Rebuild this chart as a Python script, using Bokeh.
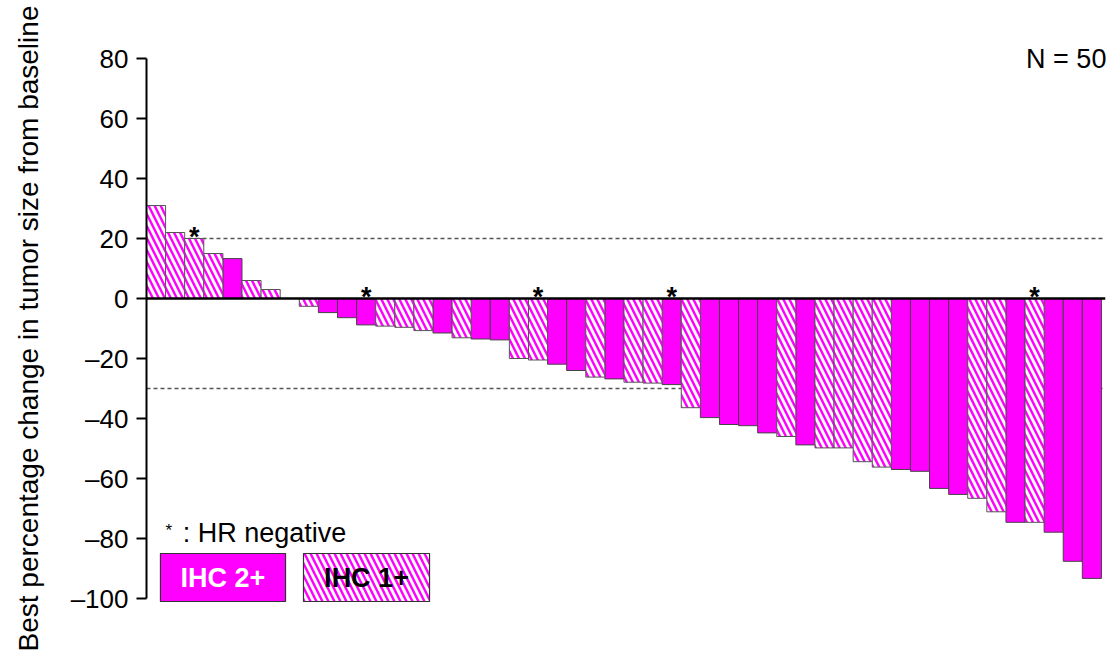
from bokeh.plotting import figure
from bokeh.models import ColumnDataSource, FixedTicker, Range1d
from bokeh.core.properties import value
from bokeh.embed import file_html
from bokeh.resources import INLINE

# Best percentage change in tumor size per patient (sorted waterfall)
change = [31, 22, 20, 15, 13.3, 6, 3, 0, -2.6, -4.7,
          -6.4, -8.8, -9.2, -9.6, -10.7, -11.5, -13.1, -13.5, -13.8, -20,
          -20.5, -21.9, -24, -26.2, -26.8, -27.9, -28.2, -28.7, -36.4, -39.7,
          -42, -42.4, -44.8, -46, -48.8, -49.8, -49.8, -54.4, -56.2, -57,
          -57.6, -63.3, -65.3, -66.6, -71.1, -74.6, -74.6, -77.9, -87.6, -93.3]
# HER2 IHC score per patient (2 = IHC 2+, 1 = IHC 1+)
ihc = [1, 1, 1, 1, 2, 1, 1, 1, 1, 2,
       2, 2, 1, 1, 1, 2, 1, 2, 2, 1,
       1, 2, 2, 1, 2, 1, 1, 2, 1, 2,
       2, 2, 2, 1, 2, 1, 1, 1, 1, 2,
       2, 2, 2, 1, 1, 2, 1, 2, 2, 2]
# Hormone-receptor negative patients (1 = HR negative)
hr_negative = [0, 0, 1, 0, 0, 0, 0, 0, 0, 0,
               0, 1, 0, 0, 0, 0, 0, 0, 0, 0,
               1, 0, 0, 0, 0, 0, 0, 1, 0, 0,
               0, 0, 0, 0, 0, 0, 0, 0, 0, 0,
               0, 0, 0, 0, 0, 0, 1, 0, 0, 0]
y_ticks = [-100, -80, -60, -40, -20, 0, 20, 40, 60, 80]
ref_lines = [20, -30]
n_label = "N = 50"

MAGENTA = "#FF00FF"
FONT = "Liberation Sans"
HATCH = dict(fill_color="white", hatch_color=MAGENTA, hatch_pattern="\\",
             hatch_scale=12, hatch_weight=2.4)

patients = list(range(1, len(change) + 1))
solid = ColumnDataSource(dict(
    x=[p for p, s in zip(patients, ihc) if s == 2],
    top=[v for v, s in zip(change, ihc) if s == 2]))
hatched = ColumnDataSource(dict(
    x=[p for p, s in zip(patients, ihc) if s == 1],
    top=[v for v, s in zip(change, ihc) if s == 1]))
stars = ColumnDataSource(dict(
    x=[p for p, h in zip(patients, hr_negative) if h],
    y=[max(v, 0) for v, h in zip(change, hr_negative) if h]))

p = figure(width=1112, height=658, output_backend="svg", toolbar_location=None,
           x_range=Range1d(0.5, 50.87), y_range=Range1d(-110, 90),
           x_axis_location=None, min_border_left=146, min_border_right=4,
           min_border_top=28, min_border_bottom=30)
p.outline_line_color = None
p.grid.visible = False
p.background_fill_color = "white"
p.border_fill_color = "white"

# reference lines at +20% and -30%
for r in ref_lines:
    p.segment(x0=0.5, x1=50.7, y0=r, y1=r, line_color="#555555",
              line_width=1.3, line_dash="4 3")

p.vbar(x="x", top="top", bottom=0, width=1, source=solid,
       fill_color=MAGENTA, line_color="#444444", line_width=1)
p.vbar(x="x", top="top", bottom=0, width=1, source=hatched,
       line_color="#555555", line_width=1, **HATCH)

p.segment(x0=0.5, x1=50.7, y0=0, y1=0, line_color="black", line_width=2.5)

p.text(x="x", y="y", text=value("*"), source=stars, text_align="center",
       text_baseline="alphabetic", y_offset=-2, text_font=value(FONT),
       text_font_size="27px", text_font_style="bold", text_color="black")

p.text(x=[50.76], y=[80], text=[n_label], text_align="right",
       text_baseline="middle", text_font=value(FONT), text_font_size="27px",
       text_color="black")

# legend
p.text(x=[1.49], y=[-78], text=["*"], text_align="left",
       text_baseline="alphabetic", text_font=value(FONT),
       text_font_size="17px", text_color="black", y_offset=-2)
p.text(x=[2.4], y=[-78], text=[": HR negative"], text_align="left",
       text_baseline="alphabetic", text_font=value(FONT),
       text_font_size="27px", text_color="black")
p.quad(left=[1.23], right=[7.78], top=[-85], bottom=[-101],
       fill_color=MAGENTA, line_color="#333333", line_width=1.2)
p.quad(left=[8.72], right=[15.32], top=[-85], bottom=[-101],
       line_color="#333333", line_width=1.2, **HATCH)
p.text(x=[4.505], y=[-93], text=["IHC 2+"], text_align="center",
       text_baseline="middle", text_font=value(FONT), text_font_size="27px",
       text_font_style="bold", text_color="white")
p.text(x=[12.02], y=[-93], text=["IHC 1+"], text_align="center",
       text_baseline="middle", text_font=value(FONT), text_font_size="27px",
       text_font_style="bold", text_color="black")

ax = p.yaxis[0]
ax.ticker = FixedTicker(ticks=y_ticks)
ax.bounds = (-100, 80)
ax.major_label_overrides = {t: ("\u2013" + str(-t) if t < 0 else str(t)) for t in y_ticks}
ax.minor_tick_line_color = None
ax.major_tick_in = 0
ax.major_tick_out = 10
ax.major_tick_line_width = 2
ax.axis_line_width = 2
ax.major_label_standoff = 8
ax.major_label_text_font = FONT
ax.major_label_text_font_size = "26px"
ax.major_label_text_color = "black"
ax.axis_label = "Best percentage change in tumor size from baseline"
ax.axis_label_text_font = FONT
ax.axis_label_text_font_size = "28px"
ax.axis_label_text_font_style = "normal"
ax.axis_label_text_color = "black"
ax.axis_label_standoff = 24

open("out.html", "w").write(file_html(p, INLINE))
